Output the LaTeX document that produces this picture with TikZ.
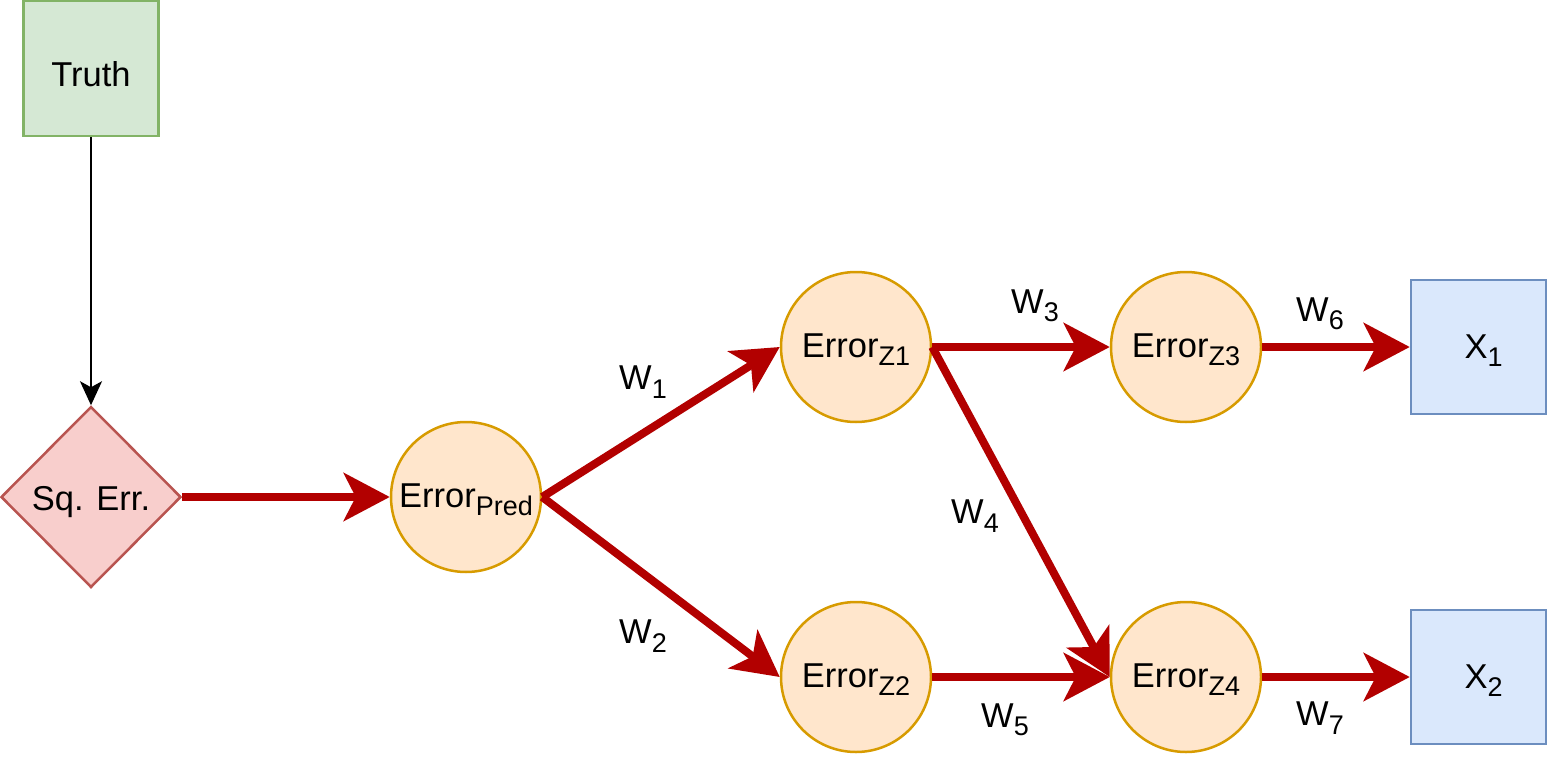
\documentclass[tikz,border=0pt]{standalone}
\usepackage{fontspec}
\setmainfont{Liberation Sans}
\usetikzlibrary{shapes.geometric,arrows.meta}
\definecolor{gfill}{HTML}{D5E8D4}\definecolor{gdraw}{HTML}{82B366}
\definecolor{rfill}{HTML}{F8CECC}\definecolor{rdraw}{HTML}{B85450}
\definecolor{ofill}{HTML}{FFE6CC}\definecolor{odraw}{HTML}{D79B00}
\definecolor{bfill}{HTML}{DAE8FC}\definecolor{bdraw}{HTML}{6C8EBF}
\definecolor{edge}{HTML}{B20000}
\newcommand{\mysub}[1]{\raisebox{-0.24em}{\fontsize{27}{27}\selectfont #1}}
\tikzset{
  base/.style={font=\fontsize{34.5}{40}\selectfont, inner sep=0pt, line width=2.5pt, text depth=0pt},
  greenbox/.style={base, rectangle, fill=gfill, draw=gdraw, minimum width=135pt, minimum height=135pt, text height=37pt},
  bluebox/.style={base, rectangle, fill=bfill, draw=bdraw, minimum width=135pt, minimum height=134pt, text height=22pt},
  errcirc/.style={base, circle, fill=ofill, draw=odraw, minimum size=150pt, text height=20pt},
  sqdiam/.style={base, diamond, aspect=1, fill=rfill, draw=rdraw, minimum width=180pt, minimum height=181pt, text height=27pt},
  wlabel/.style={font=\fontsize{34.5}{40}\selectfont, inner sep=0pt},
  redarrow/.style={draw=edge, line width=8pt, -{Stealth[length=46pt, width=48pt, inset=12pt]}},
  blackarrow/.style={draw=black, line width=2pt, -{Stealth[length=24pt, width=22pt, inset=6pt]}}
}
\begin{document}
\begin{tikzpicture}[x=1pt,y=-1pt]
\useasboundingbox (0,0) rectangle (1548,768);
\node[greenbox] (truth) at (91,68.5) {Truth};
\node[sqdiam] (sq) at (91,497) {Sq. Err.};
\node[errcirc] (pred) at (466,497) {Error\mysub{Pred}};
\node[errcirc] (z1) at (856,347) {Error\mysub{Z1}};
\node[errcirc] (z2) at (856,677) {Error\mysub{Z2}};
\node[errcirc] (z3) at (1186,347) {Error\mysub{Z3}};
\node[errcirc] (z4) at (1186,677) {Error\mysub{Z4}};
\node[bluebox] (x1) at (1478.5,347) {\hspace{0.3em}X\mysub{1}};
\node[bluebox] (x2) at (1478.5,677) {\hspace{0.3em}X\mysub{2}};

\draw[blackarrow] (truth.south) -- (sq.north);
\draw[redarrow] (sq.east) -- (pred.west);
\draw[redarrow] (pred.east) -- (z1.west);
\draw[redarrow] (pred.east) -- (z2.west);
\draw[redarrow] (z1.east) -- (z3.west);
\draw[redarrow] (z1.east) -- (z4.west);
\draw[redarrow] (z2.east) -- (z4.west);
\draw[redarrow] (z3.east) -- (x1.west);
\draw[redarrow] (z4.east) -- (x2.west);

\node[wlabel] (w1) at (643,382) {W\mysub{1}};
\node[wlabel] (w2) at (643,636) {W\mysub{2}};
\node[wlabel] (w3) at (1035,306) {W\mysub{3}};
\node[wlabel] (w4) at (975,516) {W\mysub{4}};
\node[wlabel] (w5) at (1005,720) {W\mysub{5}};
\node[wlabel] (w6) at (1320,314) {W\mysub{6}};
\node[wlabel] (w7) at (1320,718) {W\mysub{7}};
\end{tikzpicture}
\end{document}
